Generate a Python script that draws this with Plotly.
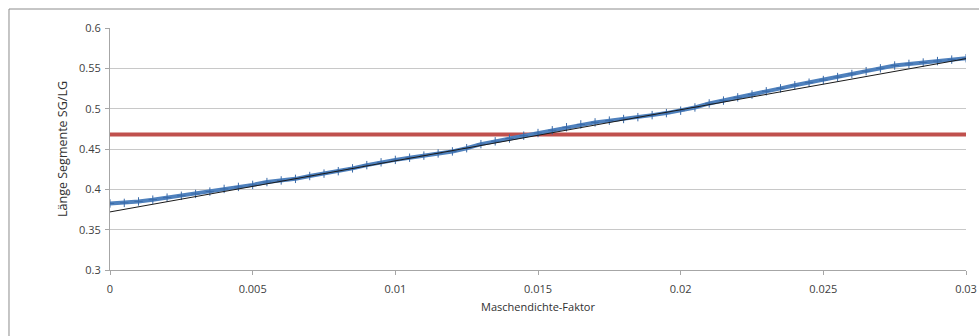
import plotly.graph_objects as go

# Maschendichte-Faktor (x) and measured segment length ratio SG/LG (y)
faktor = [
    0.0000, 0.0005, 0.0010, 0.0015, 0.0020, 0.0025, 0.0030, 0.0035, 0.0040, 0.0045,
    0.0050, 0.0055, 0.0060, 0.0065, 0.0070, 0.0075, 0.0080, 0.0085, 0.0090, 0.0095,
    0.0100, 0.0105, 0.0110, 0.0115, 0.0120, 0.0125, 0.0130, 0.0135, 0.0140, 0.0145,
    0.0150, 0.0155, 0.0160, 0.0165, 0.0170, 0.0175, 0.0180, 0.0185, 0.0190, 0.0195,
    0.0200, 0.0205, 0.0210, 0.0215, 0.0220, 0.0225, 0.0230, 0.0235, 0.0240, 0.0245,
    0.0250, 0.0255, 0.0260, 0.0265, 0.0270, 0.0275, 0.0280, 0.0285, 0.0290, 0.0295,
    0.0300,
]
laenge = [
    0.3825, 0.3832, 0.3850, 0.3872, 0.3897, 0.3920, 0.3943, 0.3972, 0.4005, 0.4030,
    0.4055, 0.4090, 0.4110, 0.4130, 0.4165, 0.4195, 0.4225, 0.4260, 0.4300, 0.4335,
    0.4365, 0.4392, 0.4418, 0.4445, 0.4470, 0.4510, 0.4560, 0.4595, 0.4630, 0.4665,
    0.4698, 0.4732, 0.4770, 0.4805, 0.4830, 0.4852, 0.4872, 0.4895, 0.4920, 0.4945,
    0.4975, 0.5015, 0.5065, 0.5100, 0.5140, 0.5175, 0.5215, 0.5252, 0.5290, 0.5322,
    0.5355, 0.5392, 0.5430, 0.5465, 0.5500, 0.5535, 0.5555, 0.5572, 0.5590, 0.5608,
    0.5625,
]

# Linear trend line endpoints
trend_x = [0.0, 0.03]
trend_y = [0.372, 0.562]

# Reference level (red horizontal line)
ref_x = [0.0, 0.03]
ref_y = [0.468, 0.468]

x_ticks = [0, 0.005, 0.01, 0.015, 0.02, 0.025, 0.03]
x_labels = ["0", "0.005", "0.01", "0.015", "0.02", "0.025", "0.03"]
y_ticks = [0.3, 0.35, 0.4, 0.45, 0.5, 0.55, 0.6]
y_labels = ["0.3", "0.35", "0.4", "0.45", "0.5", "0.55", "0.6"]

fig = go.Figure()

fig.add_trace(go.Scatter(
    x=ref_x, y=ref_y, mode="lines",
    line=dict(color="#C0504D", width=4),
    showlegend=False, hoverinfo="skip",
))

fig.add_trace(go.Scatter(
    x=faktor, y=laenge, mode="lines+markers",
    line=dict(color="#4F81BD", width=4),
    marker=dict(symbol="cross-thin", size=6, line=dict(color="#3A6AA8", width=1)),
    showlegend=False,
))

fig.add_trace(go.Scatter(
    x=trend_x, y=trend_y, mode="lines",
    line=dict(color="#1a1a1a", width=1),
    showlegend=False, hoverinfo="skip",
))

font_family = "Open Sans, Liberation Sans, sans-serif"
tick_font = dict(family=font_family, size=11, color="#404040")

fig.update_layout(
    width=979, height=336,
    margin=dict(l=110, r=13, t=28, b=66),
    paper_bgcolor="white", plot_bgcolor="white",
    xaxis=dict(
        range=[0, 0.03], tickvals=x_ticks, ticktext=x_labels,
        automargin=False,
        showgrid=False, zeroline=False,
        showline=True, linecolor="#a6a6a6", linewidth=1,
        ticks="outside", ticklen=4, tickcolor="#a6a6a6",
        ticklabelstandoff=5,
        tickfont=tick_font,
        title=dict(text="Maschendichte-Faktor",
                   font=dict(family=font_family, size=11, color="#303030"), standoff=8),
    ),
    yaxis=dict(
        range=[0.3, 0.6], tickvals=y_ticks, ticktext=y_labels,
        automargin=False,
        showgrid=True, gridcolor="#c8c8c8", gridwidth=1, zeroline=False,
        showline=True, linecolor="#a6a6a6", linewidth=1,
        ticks="outside", ticklen=4, tickcolor="#a6a6a6",
        ticklabelstandoff=2,
        tickfont=tick_font,
        title=dict(text="Länge Segmente SG/LG",
                   font=dict(family=font_family, size=12.5, color="#303030"), standoff=8),
    ),
    shapes=[dict(
        type="rect", xref="paper", yref="paper",
        x0=-0.118, y0=-0.5, x1=1.2, y1=1.0785,
        line=dict(color="#8c8c8c", width=1), fillcolor="rgba(0,0,0,0)",
        layer="below",
    )],
)

fig.write_html("out.html")
